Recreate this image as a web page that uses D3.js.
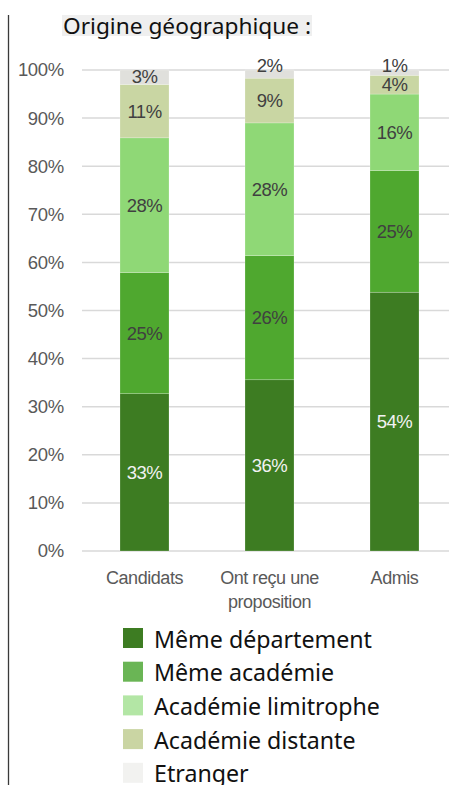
<!DOCTYPE html>
<html><head><meta charset="utf-8">
<script src="https://cdn.jsdelivr.net/npm/d3@7"></script>
<style>html,body{margin:0;padding:0;background:#fff;overflow:hidden}</style>
</head><body>
<svg id="c" width="449" height="785"></svg>
<script>
const categories = ["Candidats", "Ont reçu une\nproposition", "Admis"];
const seriesNames = ["Même département", "Même académie", "Académie limitrophe", "Académie distante", "Etranger"];
const memeDepartement = [32.7, 35.6, 53.8];
const memeAcademie = [25.2, 25.8, 25.3];
const academieLimitrophe = [28.0, 27.6, 15.9];
const academieDistante = [11.1, 9.3, 3.9];
const etranger = [3.0, 1.7, 1.1];
const yTicks = [0, 10, 20, 30, 40, 50, 60, 70, 80, 90, 100];
const barColors = ["#3d7c22", "#4fa82f", "#8fd876", "#c9d6a3", "#e0e0dc"];
const legendColors = ["#3d7c22", "#6ab555", "#b3e6a5", "#cad5a3", "#f2f2f0"];
const labelColors = ["#f2f2f2", "#404040", "#404040", "#404040", "#404040"];

const series = [memeDepartement, memeAcademie, academieLimitrophe, academieDistante, etranger];
const svg = d3.select("#c");

svg.append("line").attr("x1", 8.5).attr("x2", 8.5).attr("y1", 15).attr("y2", 785)
  .attr("stroke", "#3a3a3a").attr("stroke-width", 1.3);

const title = svg.append("g");
title.append("rect").attr("x", 62).attr("y", 15).attr("width", 250).attr("height", 21).attr("fill", "#efefef");
title.append("text").attr("x", 63).attr("y", 34).attr("font-family", "'Noto Sans', sans-serif")
  .attr("font-size", 21).attr("fill", "#111").attr("textLength", 248).attr("lengthAdjust", "spacingAndGlyphs")
  .text("Origine géographique :");

const y = d3.scaleLinear().domain([0, 100]).range([551, 70]);
const x = d3.scaleBand().domain(categories).range([82, 457]).paddingInner(0.608).paddingOuter(0.304);

svg.append("g").selectAll("line").data(yTicks).join("line")
  .attr("x1", 82).attr("x2", 449).attr("y1", d => y(d)).attr("y2", d => y(d))
  .attr("stroke", "#d9d9d9").attr("stroke-width", 1.5);

svg.append("g").selectAll("text").data(yTicks).join("text")
  .attr("x", 64).attr("y", d => y(d)).attr("dy", "0.35em").attr("text-anchor", "end")
  .attr("font-family", "'Liberation Sans', Arial, sans-serif").attr("font-size", 18.5)
  .attr("fill", "#595959").attr("letter-spacing", -0.3).text(d => d + "%");

const rows = categories.map((c, i) => {
  const o = { cat: c };
  seriesNames.forEach((s, k) => o[s] = series[k][i]);
  return o;
});
const stacked = d3.stack().keys(seriesNames)(rows);

const g = svg.append("g");
stacked.forEach((layer, k) => {
  g.selectAll(null).data(layer).join("rect")
    .attr("x", d => x(d.data.cat)).attr("width", x.bandwidth())
    .attr("y", d => y(d[1])).attr("height", d => y(d[0]) - y(d[1]))
    .attr("fill", barColors[k]).attr("stroke", "#ffffff").attr("stroke-opacity", 0.35).attr("stroke-width", 0.6);
});
stacked.forEach((layer, k) => {
  g.selectAll(null).data(layer).join("text")
    .attr("x", d => x(d.data.cat) + x.bandwidth() / 2)
    .attr("y", d => (d[1] - d[0]) < 2.5 ? y(100) - 4 : (d[1] - d[0]) < 3.5 ? y((d[0] + d[1]) / 2) - 1 : y((d[0] + d[1]) / 2))
    .attr("dy", "0.35em").attr("text-anchor", "middle")
    .attr("font-family", "'Liberation Sans', Arial, sans-serif").attr("font-size", 18.5)
    .attr("letter-spacing", -0.5)
    .attr("fill", labelColors[k]).text(d => Math.round(d[1] - d[0]) + "%");
});

svg.append("g").selectAll("text").data(categories).join("text")
  .attr("x", d => x(d) + x.bandwidth() / 2).attr("y", 584).attr("text-anchor", "middle")
  .attr("font-family", "'Liberation Sans', Arial, sans-serif").attr("font-size", 18)
  .attr("fill", "#595959").attr("letter-spacing", -0.45)
  .each(function(d) {
    d.split("\n").forEach((line, i) => {
      d3.select(this).append("tspan").attr("x", x(d) + x.bandwidth() / 2).attr("dy", i === 0 ? 0 : 24).text(line);
    });
  });

const leg = svg.append("g").selectAll("g").data(seriesNames).join("g")
  .attr("transform", (d, i) => `translate(123, ${628 + i * 33.7})`);
leg.append("rect").attr("width", 20).attr("height", 20).attr("fill", (d, i) => legendColors[i]);
leg.append("text").attr("x", 31).attr("y", 19.5).attr("font-family", "'Noto Sans', sans-serif")
  .attr("font-size", 23.2).attr("fill", "#111").text(d => d);
</script>
</body></html>
